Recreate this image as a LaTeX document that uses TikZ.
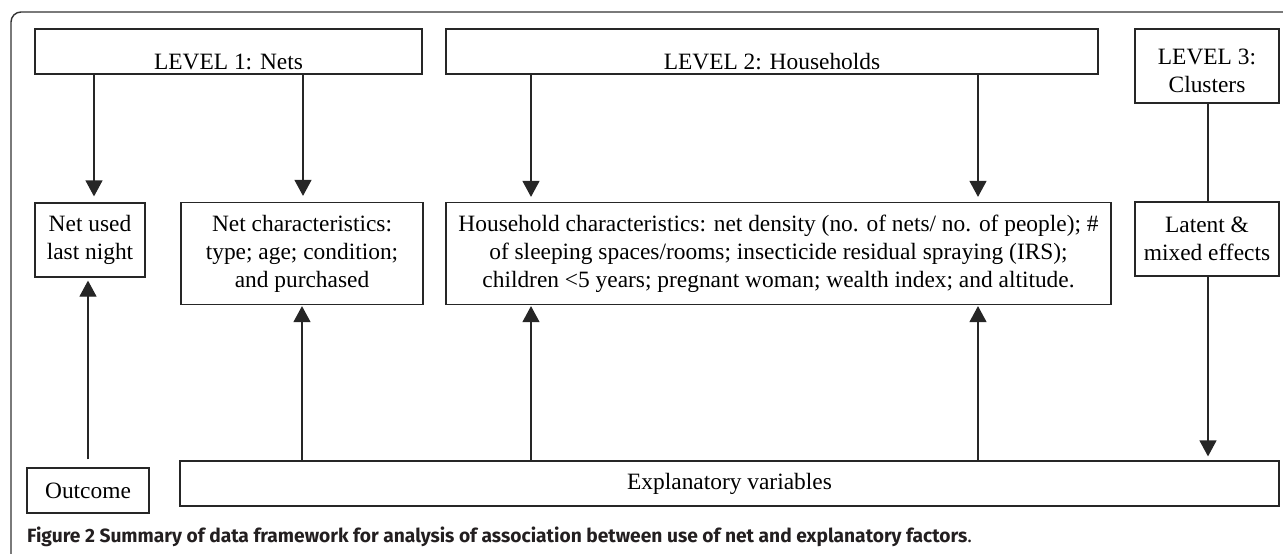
\documentclass[tikz,border=0pt]{standalone}
\usepackage{fontspec}
\setmainfont{Liberation Serif}
\newfontfamily\capfont{Fira Sans}
\usetikzlibrary{arrows.meta}
\definecolor{capgray}{HTML}{231F20}
\newcommand\fs{\fontsize{23.4}{28}\selectfont}
\newcommand\low[2]{\raisebox{-#1}[\height][\depth]{#2}}
\begin{document}
\begin{tikzpicture}[x=1pt,y=-1pt,
  box/.style={draw=black!85, line width=1.2pt, inner sep=0pt, align=center, font=\fs},
  arr/.style={draw=black!85, line width=1.2pt, -{Triangle[width=17pt,length=16pt]}},
  conn/.style={draw=black!85, line width=1.2pt}]
\useasboundingbox (0,0) rectangle (1283,554);
\begin{scope}
\clip (0,0) rectangle (1283,554);
\draw[black!80, line width=1.4pt, rounded corners=10pt] (11,12) rectangle (1330,620);
\end{scope}
% boxes
\node[box, minimum width=387pt, minimum height=45pt] (L1) at (228.5,51.5) {\low{10pt}{LEVEL 1: Nets}};
\node[box, minimum width=652pt, minimum height=45pt] (L2) at (772,51.5) {\low{10pt}{LEVEL 2: Households}};
\node[box, minimum width=144pt, minimum height=74pt] (L3) at (1207,66) {\low{4.5pt}{\parbox{140pt}{\centering LEVEL 3:\\Clusters}}};
\node[box, minimum width=110pt, minimum height=74pt] (netused) at (90,240) {Net used\\last night};
\node[box, minimum width=242pt, minimum height=102pt] (netchar) at (302,253.5) {Net characteristics:\\type; age; condition;\\and purchased};
\node[box, minimum width=665pt, minimum height=102pt] (hh) at (778.5,253.5) {Household characteristics: net density (no. of nets/ no. of people); \#\\of sleeping spaces/rooms; insecticide residual spraying (IRS);\\children <5 years; pregnant woman; wealth index; and altitude.};
\node[box, minimum width=144pt, minimum height=74pt] (latent) at (1207,239) {Latent \&\\mixed effects};
\node[box, minimum width=1099pt, minimum height=45pt] (expl) at (729.5,483.5) {Explanatory variables};
\node[box, minimum width=122pt, minimum height=45pt] (outcome) at (88,490.5) {Outcome};
% columns
\coordinate (cA) at (94,0);
\coordinate (cB) at (303,0);
\coordinate (cC) at (531,0);
\coordinate (cD) at (978,0);
\coordinate (cE) at (1208,0);
\coordinate (cF) at (88,0);
\coordinate (cG) at (302,0);
% connectors
\draw[arr, shorten >=6pt] (L1.south -| cA) -- (netused.north -| cA);
\draw[arr, shorten >=6pt] (L1.south -| cB) -- (netchar.north -| cB);
\draw[arr, shorten >=5pt] (L2.south -| cC) -- (hh.north -| cC);
\draw[arr, shorten >=5pt] (L2.south -| cD) -- (hh.north -| cD);
\draw[conn] (L3.south -| cE) -- (latent.north -| cE);
\draw[arr, shorten >=4pt] (latent.south -| cE) -- (expl.north -| cE);
\draw[arr, shorten <=8pt, shorten >=3pt] (outcome.north -| cF) -- (netused.south -| cF);
\draw[arr, shorten >=1pt] (expl.north -| cG) -- (netchar.south -| cG);
\draw[arr, shorten >=1pt] (expl.north -| cC) -- (hh.south -| cC);
\draw[arr, shorten >=1pt] (expl.north -| cD) -- (hh.south -| cD);
% caption
\node[anchor=base west, inner sep=0pt, text=capgray, font=\capfont\fontsize{19.2}{23}\selectfont] (cap) at (27,542)
  {\textbf{Figure 2 Summary of data framework for analysis of association between use of net and explanatory factors}.};
\end{tikzpicture}
\end{document}
